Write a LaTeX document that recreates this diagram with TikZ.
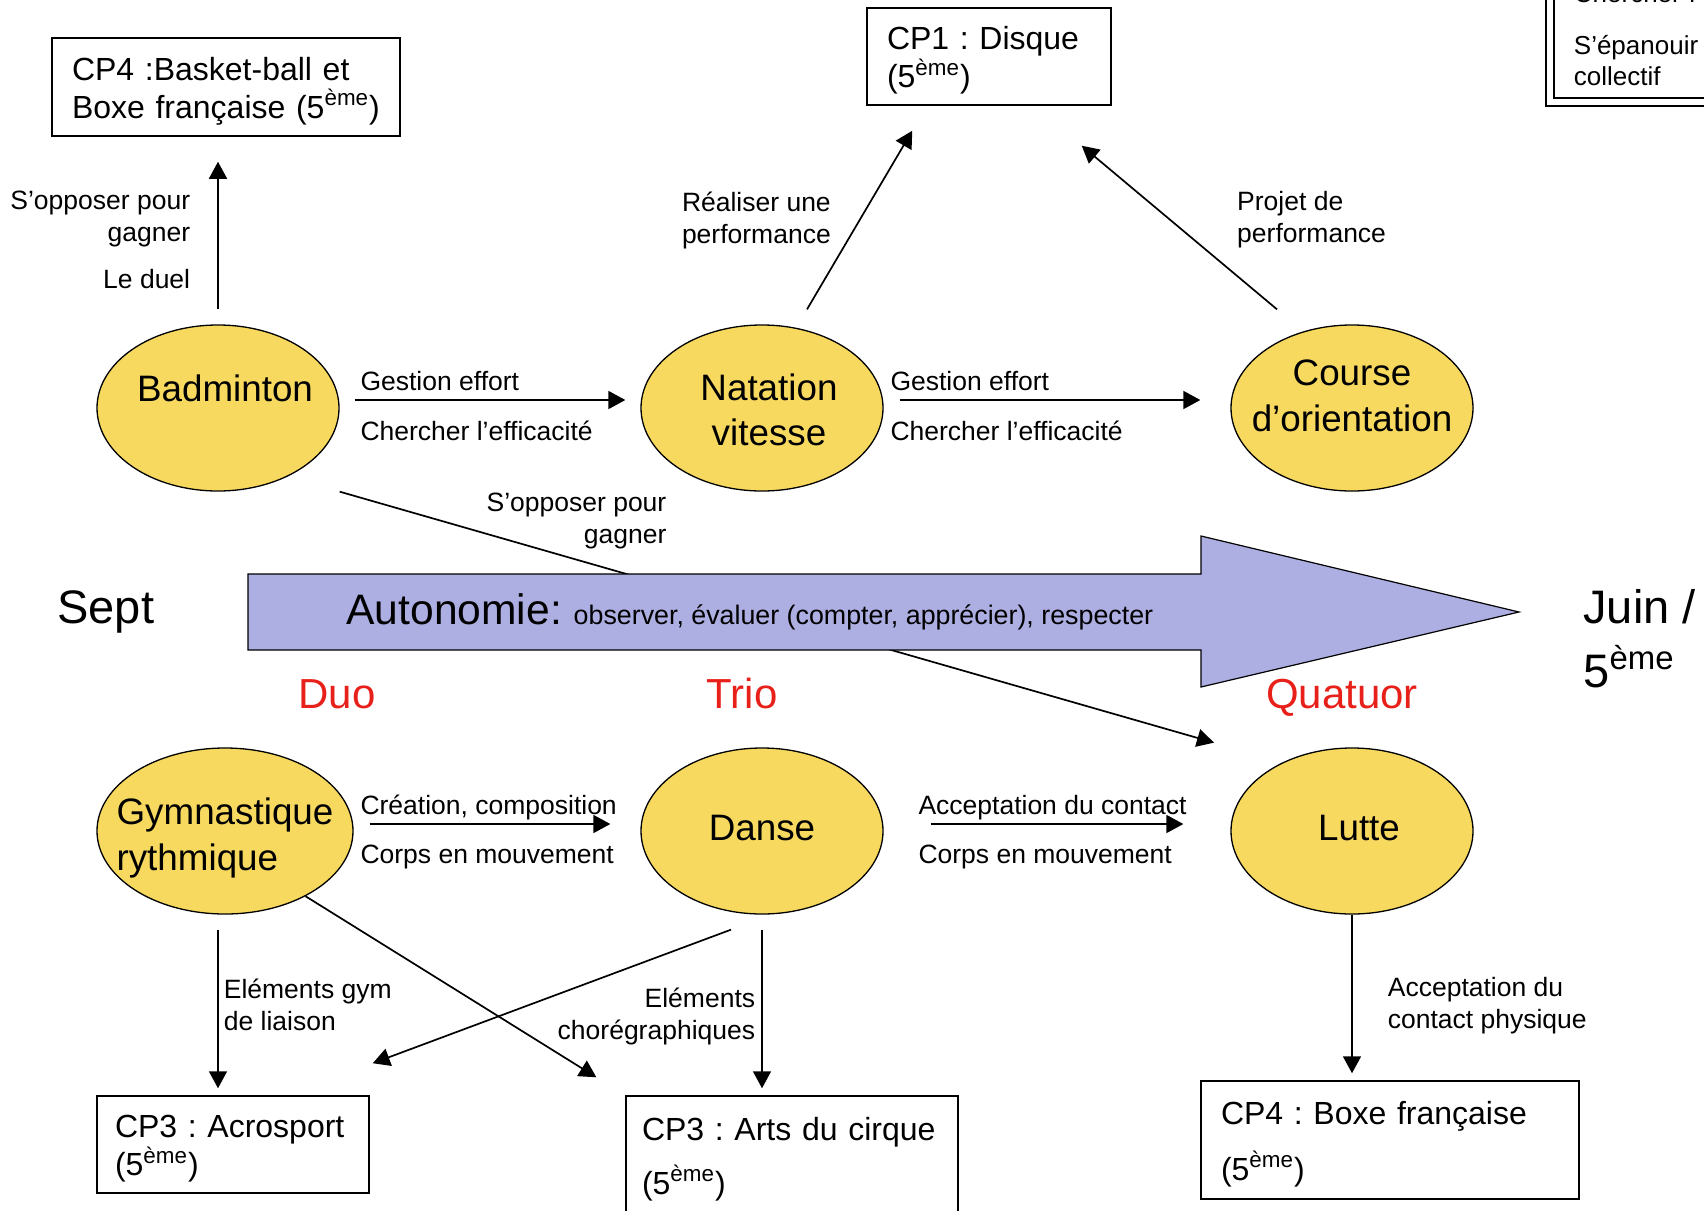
\documentclass[tikz,border=0pt]{standalone}
\usepackage{fontspec}
\setmainfont{Liberation Sans}
\frenchspacing
\usepackage{xcolor}
\usepackage{tikz}
\usetikzlibrary{arrows.meta,positioning,calc,shapes.geometric}
\definecolor{sportfill}{RGB}{247,217,96}
\definecolor{arrowfill}{RGB}{173,174,225}
\definecolor{groupred}{RGB}{232,32,26}
\newcommand{\lblfont}{\fontsize{13.25pt}{16pt}\selectfont}
\newcommand{\boxfont}{\fontsize{16pt}{19pt}\selectfont}
\newcommand{\ellfont}{\fontsize{18.4pt}{22.8pt}\selectfont}
\newcommand{\monthfont}{\fontsize{23.5pt}{25.5pt}\selectfont}
\newcommand{\groupfont}{\fontsize{21pt}{24pt}\selectfont}
\newcommand{\autofont}{\fontsize{21.3pt}{24pt}\selectfont}
\newcommand{\obsfont}{\fontsize{13.4pt}{16pt}\selectfont}
\newcommand{\goalfont}{\fontsize{13pt}{15.75pt}\selectfont}
\newcommand{\cinq}{5\textsuperscript{ème}}
\newcommand{\boxstrut}{\rule{0pt}{15.5pt}}
\tikzset{
  >={Triangle[length=8.5pt,width=9pt]},
  sport/.style={draw, ellipse, fill=sportfill, line width=0.65pt, inner sep=0pt, minimum width=#1, minimum height=83pt},
  sport/.default=121pt,
  ellabel/.style={font=\ellfont, align=center, inner sep=0pt},
  cpbox/.style={draw, rectangle, line width=0.75pt, align=left, font=\boxfont, inner xsep=10pt, inner ysep=0pt},
  goalbox/.style={draw, double, line width=0.9pt, double distance=3pt, align=left, font=\goalfont, inner xsep=12pt, inner ysep=8pt, text width=200pt},
  lbl/.style={font=\lblfont, inner sep=0pt},
  toplbl/.style={lbl, at start, anchor=base west, xshift=#1, yshift=4.75pt},
  botlbl/.style={lbl, at start, below right=10pt and #1},
  month/.style={font=\monthfont, inner sep=0pt},
  group/.style={font=\groupfont, text=groupred, inner sep=0pt, anchor=base},
  conn/.style={->, line width=0.85pt},
  arrowbody/.style={draw, line width=0.6pt, fill=arrowfill},
}

\begin{document}
\begin{tikzpicture}[x=0.5pt, y=-0.5pt]
  \useasboundingbox (0,0) rectangle (1704,1211);

  % nodes
  \node[sport, label={[ellabel, xshift=3.5pt, yshift=10pt]center:Badminton}] (bad) at (218,408) {};
  \node[sport, label={[ellabel, xshift=3.5pt, yshift=-1pt]center:{Natation\\vitesse}}] (nat) at (762,408) {};
  \node[sport, label={[ellabel, yshift=6pt]center:{Course\\d’orientation}}] (cou) at (1352,408) {};
  \node[sport=128pt, label={[ellabel, align=left, yshift=-3.5pt]center:{Gymnastique\\rythmique}}] (gym) at (225,831) {};
  \node[sport, label={[ellabel, yshift=1.5pt]center:Danse}] (dan) at (762,831) {};
  \node[sport, label={[ellabel, xshift=3.5pt, yshift=1.5pt]center:Lutte}] (lut) at (1352,831) {};

  \node[cpbox, text width=154pt, minimum height=49pt] (cpfourA) at (226,87) {\boxstrut CP4 :Basket-ball et\\Boxe française (\cinq)};
  \node[cpbox, text width=102pt, minimum height=48.5pt] (cpone) at (989,56.5) {\boxstrut CP1 : Disque\\(\cinq)};
  \node[cpbox, text width=118pt, inner xsep=9pt, minimum height=48.5pt] (acro) at (233,1144.5) {\boxstrut CP3 : Acrosport\\(\cinq)};
  \node[cpbox, text width=150pt, inner xsep=8pt, minimum height=59pt] (arts) at (792,1155) {\boxstrut CP3 : Arts du cirque\\[8pt](\cinq)};
  \node[cpbox, text width=169pt, minimum height=59pt] (cpfourB) at (1390,1140) {\boxstrut CP4 : Boxe française\\[9pt](\cinq)};
  \node[goalbox, anchor=south west] (goals) at (1549,103) {Chercher l\\[10pt]S’épanouir\\collectif};

  \node[month, anchor=base west] (sept) at (57,623) {Sept};
  \node[month, anchor=north west, align=left] (juin) at (1583,589) {Juin /\\[6.5pt]\cinq};
  \node[group] (duo) at (337,708) {Duo};
  \node[group] (trio) at (742,708) {Trio};
  \node[group] (quatuor) at (1342,708) {Quatuor};

  % arrows with labels
  \draw[conn, shorten <=7.5pt, shorten >=12.5pt] (bad.north) -- (bad.north |- cpfourA.south)
    node[midway, left=13.5pt, yshift=-4.75pt, lbl, align=right] {S’opposer pour\\gagner\\[7.5pt]Le duel};
  \draw[conn] ($(nat.north)+(45,-15)$) -- ($(cpone.south west)+(46,25)$)
    node[midway, left=14pt, lbl, align=right] {Réaliser une\\performance};
  \draw[conn] ($(cou.north)+(-75,-15)$) -- ($(cpone.south east)+(-30,40)$)
    node[midway, right=28.5pt, yshift=4pt, lbl, align=left] {Projet de\\performance};

  \draw[conn, shorten <=7.5pt, shorten >=7.5pt] ([yshift=4pt]bad.east) -- ([yshift=4pt]nat.west)
    node[toplbl=10pt] {Gestion effort}
    node[botlbl=10pt] {Chercher l’efficacité};
  \draw[conn, shorten <=8pt, shorten >=15pt] ([yshift=4pt]nat.east) -- ([yshift=4pt]cou.west)
    node[toplbl=3pt] {Gestion effort}
    node[botlbl=3pt] {Chercher l’efficacité};
  \draw[conn, shorten >=8.5pt] (bad.east |- bad.south) -- (lut.west |- lut.north)
    node[pos=0.37, above left=18pt and 1pt, lbl, align=right] {S’opposer pour\\gagner};

  \draw[conn, shorten <=8pt, shorten >=15pt] ([yshift=3.5pt]gym.east) -- ([yshift=3.5pt]dan.west)
    node[toplbl=3pt] {Création, composition}
    node[botlbl=3pt] {Corps en mouvement};
  \draw[conn, shorten <=23.5pt, shorten >=23.5pt] ([yshift=3.5pt]dan.east) -- ([yshift=3.5pt]lut.west)
    node[toplbl=17pt] {Acceptation du contact}
    node[botlbl=17pt] {Corps en mouvement};

  \coordinate (gymout) at ([xshift=-3.5pt]gym.south);
  \draw[conn, shorten <=7.5pt, shorten >=3.5pt] (gymout) -- (gymout |- acro.north)
    node[midway, right=2.5pt, lbl, align=left] {Eléments gym\\de liaison};
  \draw[conn, shorten >=17pt] (gym.-39) -- (arts.north west);
  \draw[conn] ($(dan.south)+(-31,15)$) -- ($(acro.north east)+(3,-32)$);
  \draw[conn, shorten <=7.5pt, shorten >=3.5pt] (dan.south) -- (dan.south |- arts.north)
    node[midway, left=3pt, yshift=-6pt, lbl, align=right] {Eléments\\chorégraphiques};
  \draw[conn, shorten >=3.5pt] (lut.south) -- (lut.south |- cpfourB.north)
    node[midway, right=17.5pt, yshift=-4pt, lbl, align=left] {Acceptation du\\contact physique};

  % big arrow
  \draw[arrowbody] (248,574) -- (1201,574) -- (1201,536) -- (1519,612) -- (1201,687) -- (1201,650) -- (248,650) -- cycle;
  \node[anchor=base west, inner sep=0pt] (autonomie) at (346,624) {{\autofont Autonomie: }{\obsfont observer, évaluer (compter, apprécier), respecter}};
\end{tikzpicture}
\end{document}
